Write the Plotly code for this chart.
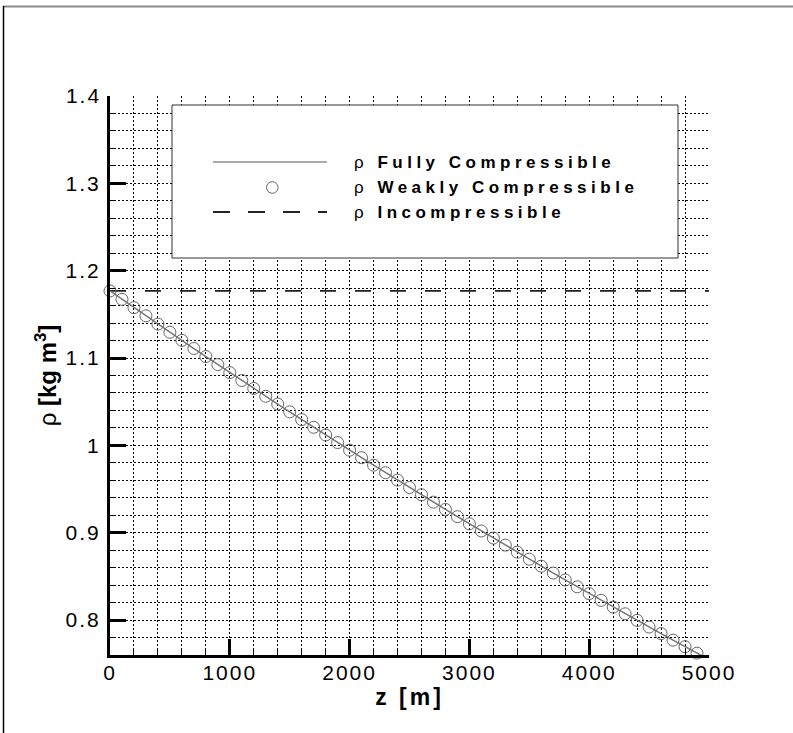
import plotly.graph_objects as go

# ---- data ----
z_m = [0, 100, 200, 300, 400, 500, 600, 700, 800, 900,
       1000, 1100, 1200, 1300, 1400, 1500, 1600, 1700, 1800, 1900,
       2000, 2100, 2200, 2300, 2400, 2500, 2600, 2700, 2800, 2900,
       3000, 3100, 3200, 3300, 3400, 3500, 3600, 3700, 3800, 3900,
       4000, 4100, 4200, 4300, 4400, 4500, 4600, 4700, 4800, 4900, 5000]
rho_full = [1.1768, 1.1672, 1.1577, 1.1483, 1.1389, 1.1295, 1.1202, 1.1109, 1.1017, 1.0925,
            1.0833, 1.0743, 1.0652, 1.0562, 1.0473, 1.0384, 1.0295, 1.0207, 1.0119, 1.0032,
            0.9945, 0.9859, 0.9773, 0.9687, 0.9602, 0.9518, 0.9434, 0.9350, 0.9267, 0.9184,
            0.9102, 0.9020, 0.8939, 0.8858, 0.8777, 0.8697, 0.8617, 0.8538, 0.8459, 0.8381,
            0.8303, 0.8226, 0.8149, 0.8072, 0.7996, 0.7920, 0.7845, 0.7770, 0.7695, 0.7621, 0.7548]
rho_weak = [1.1768, 1.1672, 1.1577, 1.1483, 1.1389, 1.1295, 1.1202, 1.1109, 1.1017, 1.0925,
            1.0833, 1.0743, 1.0652, 1.0562, 1.0473, 1.0384, 1.0295, 1.0207, 1.0119, 1.0032,
            0.9945, 0.9859, 0.9773, 0.9687, 0.9602, 0.9518, 0.9434, 0.9350, 0.9267, 0.9184,
            0.9102, 0.9020, 0.8939, 0.8858, 0.8777, 0.8697, 0.8617, 0.8538, 0.8459, 0.8381,
            0.8303, 0.8226, 0.8149, 0.8072, 0.7996, 0.7920, 0.7845, 0.7770, 0.7695, 0.7621, 0.7548]
z_inc = [0, 5000]
rho_inc = [1.1768, 1.1768]
legend_labels = ["Fully Compressible", "Weakly Compressible", "Incompressible"]

FONT = "Liberation Sans, Arial, sans-serif"

fig = go.Figure()
fig.add_trace(go.Scatter(x=z_inc, y=rho_inc, mode="lines", name="ρ " + legend_labels[2],
                         line=dict(color="#1e1e1e", width=1.7, dash="16px,19px"),
                         showlegend=False))
fig.add_trace(go.Scatter(x=z_m, y=rho_full, mode="lines", name="ρ " + legend_labels[0],
                         line=dict(color="#777777", width=1.5), showlegend=False))
fig.add_trace(go.Scatter(x=z_m, y=rho_weak, mode="markers", name="ρ " + legend_labels[1],
                         marker=dict(symbol="circle-open", size=12, color="#666666",
                                     line=dict(color="#666666", width=1)),
                         cliponaxis=False, showlegend=False))

# plot area in px: x 110..709, y 96..655
def px2x(px):
    return (px - 110) / 599.0

def py2y(py):
    return (655 - py) / 559.0

shapes = []
# figure frame (top gray, left black)
shapes.append(dict(type="line", xref="paper", yref="paper",
                   x0=px2x(3), x1=px2x(793), y0=py2y(6.5), y1=py2y(6.5),
                   line=dict(color="#8a8a8a", width=2)))
shapes.append(dict(type="line", xref="paper", yref="paper",
                   x0=px2x(3.5), x1=px2x(3.5), y0=py2y(6), y1=py2y(733),
                   line=dict(color="#000000", width=1.5)))
# legend box
shapes.append(dict(type="rect", xref="paper", yref="paper",
                   x0=px2x(172), x1=px2x(678), y0=py2y(258), y1=py2y(105),
                   fillcolor="white", line=dict(color="#333333", width=1), layer="above"))
rows = [162, 187.5, 212]
shapes.append(dict(type="line", xref="paper", yref="paper",
                   x0=px2x(213), x1=px2x(327), y0=py2y(rows[0]), y1=py2y(rows[0]),
                   line=dict(color="#555555", width=1.2), layer="above"))
r = 5.8
shapes.append(dict(type="circle", xref="paper", yref="paper",
                   x0=px2x(272.3 - r), x1=px2x(272.3 + r),
                   y0=py2y(rows[1] + r), y1=py2y(rows[1] - r),
                   line=dict(color="#666666", width=1), layer="above"))
shapes.append(dict(type="line", xref="paper", yref="paper",
                   x0=px2x(213), x1=px2x(327), y0=py2y(rows[2]), y1=py2y(rows[2]),
                   line=dict(color="#222222", width=1.8, dash="17px,18px"), layer="above"))

annotations = []
for lab, ry in zip(legend_labels, rows):
    annotations.append(dict(xref="paper", yref="paper", x=px2x(352), y=py2y(ry),
                            xanchor="left", yanchor="middle", showarrow=False,
                            text="ρ <b>" + lab + "</b>",
                            font=dict(family=FONT, size=17, color="black")))

axis_common = dict(
    showline=True, linecolor="black", linewidth=3,
    ticks="inside", ticklen=16, tickwidth=3, tickcolor="black",
    showgrid=True, gridcolor="black", gridwidth=1, griddash="2px,2px",
    zeroline=False, mirror=False,
    tickfont=dict(family=FONT, size=21, color="black"),
)

fig.update_layout(
    width=793, height=733,
    margin=dict(l=110, r=84, t=96, b=78),
    paper_bgcolor="white", plot_bgcolor="white",
    shapes=shapes, annotations=annotations,
    showlegend=False,
    xaxis=dict(range=[0, 5000], dtick=1000, tick0=0,
               minor=dict(dtick=200, ticks="inside", ticklen=5, tickwidth=1, tickcolor="black",
                          showgrid=True, gridcolor="black", gridwidth=1, griddash="2px,2px"),
               ticklabelstandoff=-3,
               title=dict(text="<b>z [m]</b>", font=dict(family=FONT, size=23, color="black"),
                          standoff=6),
               **axis_common),
    yaxis=dict(range=[0.76, 1.4], dtick=0.1, tick0=0.8,
               minor=dict(dtick=0.02, tick0=0.76, ticks="inside", ticklen=5, tickwidth=1, tickcolor="black",
                          showgrid=True, gridcolor="black", gridwidth=1, griddash="2px,2px"),
               ticklabelstandoff=2,
               title=dict(text="ρ <b>[kg m<sup>3</sup>]</b>", font=dict(family=FONT, size=24, color="black"),
                          standoff=9),
               **axis_common),
)

post = """
var gd = document.getElementById('{plot_id}');
function spaceText(t, sp, mode) {
  var b0 = t.getBBox();
  t.style.letterSpacing = sp;
  var b1 = t.getBBox();
  var dx;
  if (mode === 'left') { dx = b0.x - b1.x; }
  else if (mode === 'right') { dx = (b0.x + b0.width) - (b1.x + b1.width); }
  else { dx = (b0.x + b0.width / 2) - (b1.x + b1.width / 2); }
  var x = parseFloat(t.getAttribute('x') || '0');
  t.setAttribute('x', x + dx);
}
gd.querySelectorAll('.annotation-text').forEach(function(t){ spaceText(t, '4.5px', 'left'); });
gd.querySelectorAll('.ytick text').forEach(function(t){ spaceText(t, '2px', 'right'); });
gd.querySelectorAll('.xtick text').forEach(function(t){ spaceText(t, '2px', 'center'); });
gd.querySelectorAll('.xtitle').forEach(function(t){ spaceText(t, '3px', 'center'); });
"""
fig.write_html("out.html", post_script=post)
